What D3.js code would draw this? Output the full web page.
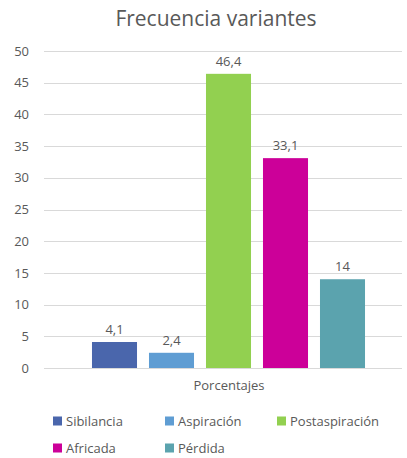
<!DOCTYPE html>
<html>
<head>
<meta charset="utf-8">
<script src="https://cdn.jsdelivr.net/npm/d3@7"></script>
<style>
  body { margin: 0; background: #fff; }
  text { font-family: "Open Sans", "Noto Sans", sans-serif; fill: #595959; }
</style>
</head>
<body>
<svg id="chart"></svg>
<script>
const series = ["Sibilancia", "Aspiración", "Postaspiración", "Africada", "Pérdida"];
const values = [4.1, 2.4, 46.4, 33.1, 14];
const labels = ["4,1", "2,4", "46,4", "33,1", "14"];
const colors = ["#4A66AC", "#5F9DD3", "#92D050", "#CC0099", "#5BA3AE"];
const yTicks = [0, 5, 10, 15, 20, 25, 30, 35, 40, 45, 50];

const width = 407, height = 458;
const svg = d3.select("#chart").attr("width", width).attr("height", height);

const plotLeft = 44, plotRight = 402;
const y = d3.scaleLinear().domain([0, 50]).range([368, 51]);
const x = d3.scaleBand().domain(series).range([86, 371])
  .paddingInner(0.21).paddingOuter(0.105);

// title
svg.append("text")
  .attr("x", 216).attr("y", 26)
  .attr("text-anchor", "middle")
  .style("font-size", "21px")
  .text("Frecuencia variantes");

// gridlines
svg.append("g").selectAll("line")
  .data(yTicks)
  .join("line")
  .attr("x1", plotLeft).attr("x2", plotRight)
  .attr("y1", d => Math.round(y(d)) + 0.5)
  .attr("y2", d => Math.round(y(d)) + 0.5)
  .attr("stroke", "#d9d9d9")
  .attr("stroke-width", 1);

// y axis labels
const yAxis = d3.axisLeft(y).tickValues(yTicks).tickSize(0).tickPadding(0);
svg.append("g")
  .attr("transform", "translate(29,0)")
  .call(yAxis)
  .call(g => g.select(".domain").remove())
  .call(g => g.selectAll("text")
    .style("font-size", "13px")
    .style("font-family", "'Open Sans', sans-serif")
    .attr("fill", "#595959"));

// bars
svg.append("g").selectAll("rect")
  .data(values)
  .join("rect")
  .attr("x", (d, i) => x(series[i]))
  .attr("width", x.bandwidth())
  .attr("y", d => y(d))
  .attr("height", d => y(0) - y(d))
  .attr("fill", (d, i) => colors[i]);

// value labels
svg.append("g").selectAll("text")
  .data(values)
  .join("text")
  .attr("x", (d, i) => x(series[i]) + x.bandwidth() / 2)
  .attr("y", d => y(d) - 8)
  .attr("text-anchor", "middle")
  .style("font-size", "13px")
  .text((d, i) => labels[i]);

// x axis title
svg.append("text")
  .attr("x", 229).attr("y", 390)
  .attr("text-anchor", "middle")
  .style("font-size", "13px")
  .text("Porcentajes");

// legend
const legendCols = [53, 165, 277];
const legendRows = [421, 448];
const legend = svg.append("g").selectAll("g")
  .data(series)
  .join("g")
  .attr("transform", (d, i) => `translate(${legendCols[i % 3]},${legendRows[Math.floor(i / 3)]})`);
legend.append("rect")
  .attr("x", 0).attr("y", -4.5)
  .attr("width", 9).attr("height", 9)
  .attr("fill", (d, i) => colors[i]);
legend.append("text")
  .attr("x", 13).attr("y", 4.5)
  .style("font-size", "13px")
  .text(d => d);
</script>
</body>
</html>
